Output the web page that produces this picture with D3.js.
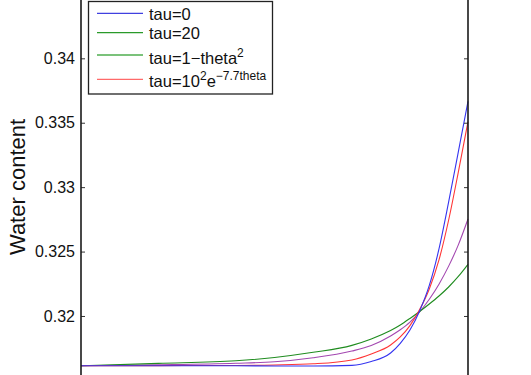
<!DOCTYPE html>
<html>
<head>
<meta charset="utf-8">
<script src="https://cdn.jsdelivr.net/npm/d3@7/dist/d3.min.js"></script>
<style>
  html, body { margin: 0; padding: 0; background: #fff; }
  svg { display: block; font-family: "Liberation Sans", Arial, Helvetica, sans-serif; }
</style>
</head>
<body>
<svg id="chart" width="531" height="375"></svg>
<script>
// ---- data ----
const xValues = [0, 0.2, 0.4, 0.5, 0.6, 0.7, 0.75, 0.8, 0.825, 0.85, 0.875, 0.9, 0.925, 0.95, 0.975, 1];
const tau0 =     [0.31614, 0.31614, 0.31614, 0.31612, 0.31612, 0.31617, 0.31647, 0.31713, 0.31788, 0.31891, 0.32039, 0.32237, 0.32520, 0.32885, 0.33273, 0.33665];
const tau20 =    [0.31614, 0.31632, 0.31652, 0.31678, 0.31718, 0.31772, 0.31822, 0.31887, 0.31930, 0.31981, 0.32035, 0.32093, 0.32155, 0.32225, 0.32307, 0.32401];
const tauTheta = [0.31614, 0.31621, 0.31633, 0.31645, 0.31676, 0.31728, 0.31771, 0.31845, 0.31893, 0.31952, 0.32032, 0.32130, 0.32247, 0.32387, 0.32552, 0.32753];
const tauExp =   [0.31614, 0.31615, 0.31616, 0.31620, 0.31629, 0.31659, 0.31705, 0.31775, 0.31837, 0.31925, 0.32050, 0.32210, 0.32435, 0.32745, 0.33117, 0.33508];
const yTicks = [0.32, 0.325, 0.33, 0.335, 0.34];
const yLabel = "Water content";

// ---- layout ----
const svg = d3.select("#chart");
const left = 81, right = 468;
const x = d3.scaleLinear().domain([0, 1]).range([left, right]);
const y = d3.scaleLinear().domain([0.315, 0.345]).range([380.4, -6.1]);

const plot = [
  { vals: tauTheta, color: "#a347b0" },
  { vals: tau20,    color: "#1f8c1f" },
  { vals: tauExp,   color: "#ff3535" },
  { vals: tau0,     color: "#3434f0" }
];

const line = d3.line().x(d => x(d[0])).y(d => y(d[1])).curve(d3.curveMonotoneX);
plot.forEach(s => {
  svg.append("path")
    .datum(xValues.map((xv, i) => [xv, s.vals[i]]))
    .attr("d", line)
    .attr("fill", "none")
    .attr("stroke", s.color)
    .attr("stroke-width", 1.1);
});

// axes (MATLAB style, inward ticks)
const leftAxis = d3.axisLeft(y).tickValues(yTicks).tickSize(-4).tickPadding(6)
  .tickFormat(d3.format(""));
const gL = svg.append("g").attr("transform", `translate(${left},0)`).call(leftAxis);
gL.select(".domain").remove();
gL.selectAll(".tick line").attr("stroke", "#333");
gL.selectAll(".tick text").attr("font-size", 16).attr("fill", "#111")
  .attr("font-family", "Liberation Sans, Arial, sans-serif");

const rightAxis = d3.axisRight(y).tickValues(yTicks).tickSize(-4).tickFormat("");
const gR = svg.append("g").attr("transform", `translate(${right},0)`).call(rightAxis);
gR.select(".domain").remove();
gR.selectAll(".tick line").attr("stroke", "#333");

svg.append("line").attr("x1", left).attr("x2", left).attr("y1", -5).attr("y2", 380)
  .attr("stroke", "#1a1a1a").attr("stroke-width", 1.6);
svg.append("line").attr("x1", right).attr("x2", right).attr("y1", -5).attr("y2", 380)
  .attr("stroke", "#1a1a1a").attr("stroke-width", 1.6);

// y label
svg.append("text")
  .attr("transform", `translate(25,187) rotate(-90)`)
  .attr("text-anchor", "middle")
  .attr("font-size", 22)
  .attr("fill", "#111")
  .text(yLabel);

// legend
const lg = svg.append("g");
lg.append("rect").attr("x", 88.5).attr("y", 1.5).attr("width", 184).attr("height", 92.5)
  .attr("fill", "#fff").attr("stroke", "#222").attr("stroke-width", 1.3);

const legendItems = [
  { color: "#4040e0", ly: 13.3, ty: 19.5, parts: [["tau=0", 0]] },
  { color: "#2a9a2a", ly: 32.7, ty: 38.8, parts: [["tau=20", 0]] },
  { color: "#4fae4f", ly: 55,   ty: 63.5, parts: [["tau=1\u2212theta", 0], ["2", 1]] },
  { color: "#ff6a6a", ly: 79.3, ty: 86.5, parts: [["tau=10", 0], ["2", 1], ["e", 0], ["\u22127.7theta", 1]] }
];
legendItems.forEach(it => {
  lg.append("line").attr("x1", 97).attr("x2", 143).attr("y1", it.ly).attr("y2", it.ly)
    .attr("stroke", it.color).attr("stroke-width", 1.3);
  const t = lg.append("text").attr("x", 149).attr("y", it.ty).attr("font-size", 16.5).attr("fill", "#111");
  let prevSup = 0;
  it.parts.forEach(([str, sup]) => {
    const ts = t.append("tspan").text(str);
    if (sup) { ts.attr("font-size", 12).attr("dy", prevSup ? 0 : -7); }
    else { ts.attr("dy", prevSup ? 7 : 0); }
    prevSup = sup;
  });
});
</script>
</body>
</html>
